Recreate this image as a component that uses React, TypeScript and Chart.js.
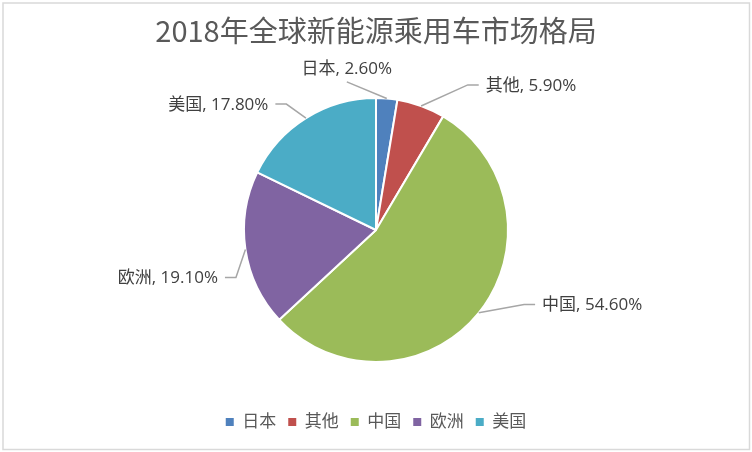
import React, { useEffect, useRef } from "react";
import { Chart, registerables } from "chart.js";

Chart.register(...registerables);

const TITLE = "2018年全球新能源乘用车市场格局";
const categories = ["日本", "其他", "中国", "欧洲", "美国"];
const shares = [2.6, 5.9, 54.6, 19.1, 17.8];
const colors = ["#4F81BD", "#C0504D", "#9BBB59", "#8064A2", "#4BACC6"];

// label elbow placement relative to pie centre, in units of the radius
const labelLayout = [
  { ex: -0.221, ey: -1.122, side: "top" },
  { ex: 0.695, ey: -1.099, side: "right" },
  { ex: 1.122, ey: 0.565, side: "right" },
  { ex: -1.061, ey: 0.359, side: "left" },
  { ex: -0.679, ey: -0.954, side: "left" },
];

const LABEL_FONT = "17px 'Open Sans', 'Noto Sans CJK SC', sans-serif";

const frame = {
  id: "frame",
  beforeDraw(chart: any) {
    const ctx = chart.ctx;
    ctx.save();
    ctx.fillStyle = "#ffffff";
    ctx.fillRect(0, 0, chart.width, chart.height);
    ctx.strokeStyle = "#D9D9D9";
    ctx.lineWidth = 1.5;
    ctx.strokeRect(3, 3, chart.width - 5.5, chart.height - 5.5);
    ctx.restore();
  },
};

const pieLabels = {
  id: "pieLabels",
  afterDatasetsDraw(chart: any) {
    const meta = chart.getDatasetMeta(0);
    const ctx = chart.ctx;
    ctx.save();
    ctx.font = LABEL_FONT;
    ctx.fillStyle = "#404040";
    ctx.strokeStyle = "#A6A6A6";
    ctx.lineWidth = 1.5;
    meta.data.forEach((arc: any, i: number) => {
      const { x, y, startAngle, endAngle, outerRadius } = arc.getProps(
        ["x", "y", "startAngle", "endAngle", "outerRadius"],
        true
      );
      const mid = (startAngle + endAngle) / 2;
      const sx = x + Math.cos(mid) * outerRadius;
      const sy = y + Math.sin(mid) * outerRadius;
      const L = labelLayout[i];
      const ex = x + L.ex * outerRadius;
      const ey = y + L.ey * outerRadius;
      const text = `${categories[i]}, ${shares[i].toFixed(2)}%`;
      ctx.beginPath();
      ctx.moveTo(sx, sy);
      ctx.lineTo(ex, ey);
      if (L.side === "top") {
        ctx.stroke();
        ctx.textAlign = "center";
        ctx.textBaseline = "middle";
        ctx.fillText(text, ex, ey - 13);
      } else {
        const dir = L.side === "right" ? 1 : -1;
        const hx = ex + dir * 11;
        ctx.lineTo(hx, ey);
        ctx.stroke();
        ctx.textAlign = dir > 0 ? "left" : "right";
        ctx.textBaseline = "middle";
        ctx.fillText(text, hx + dir * 7, ey + 1);
      }
    });
    ctx.restore();
  },
};

export default function App() {
  const canvasRef = useRef<HTMLCanvasElement | null>(null);

  useEffect(() => {
    document.body.style.margin = "0";
    const canvas = canvasRef.current;
    if (!canvas) return;
    const chart = new Chart(canvas, {
      type: "pie",
      data: {
        labels: categories,
        datasets: [
          {
            data: shares,
            backgroundColor: colors,
            borderColor: "#ffffff",
            borderWidth: 2,
            radius: 132,
          } as any,
        ],
      },
      options: {
        animation: false,
        responsive: true,
        maintainAspectRatio: false,
        layout: { padding: { top: 0, bottom: 11.5, left: 0, right: 0 } },
        plugins: {
          tooltip: { enabled: false },
          title: {
            display: true,
            text: TITLE,
            color: "#595959",
            font: {
              family: "'Noto Sans CJK SC', sans-serif",
              size: 29,
              weight: "normal",
              lineHeight: 1.2,
            },
            padding: { top: 14, bottom: 9.7 },
          },
          legend: {
            display: true,
            position: "bottom",
            labels: {
              color: "#595959",
              font: {
                family: "'Open Sans', 'Noto Sans CJK SC', sans-serif",
                size: 17,
              },
              boxWidth: 8,
              boxHeight: 8,
              padding: 12,
              generateLabels: (c: any) =>
                (Chart as any).overrides.pie.plugins.legend.labels
                  .generateLabels(c)
                  .map((l: any) => ({ ...l, lineWidth: 0 })),
            },
          },
        },
      },
      plugins: [frame, pieLabels],
    });
    return () => chart.destroy();
  }, []);

  return (
    <div style={{ position: "relative", width: 752, height: 452 }}>
      <canvas ref={canvasRef} />
    </div>
  );
}
